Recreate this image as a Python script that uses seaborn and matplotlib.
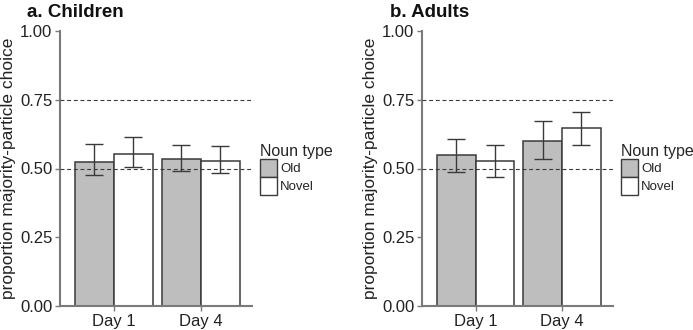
import matplotlib
matplotlib.use("Agg")
import matplotlib.pyplot as plt
import seaborn as sns
import pandas as pd
import numpy as np
from matplotlib.patches import Patch

days = ["Day 1", "Day 4"]
noun_types = ["Old", "Novel"]

children_mean = {"Old": [0.522, 0.536], "Novel": [0.553, 0.526]}
children_lo = {"Old": [0.476, 0.491], "Novel": [0.504, 0.485]}
children_hi = {"Old": [0.590, 0.587], "Novel": [0.615, 0.582]}

adults_mean = {"Old": [0.548, 0.600], "Novel": [0.526, 0.646]}
adults_lo = {"Old": [0.487, 0.533], "Novel": [0.468, 0.584]}
adults_hi = {"Old": [0.607, 0.672], "Novel": [0.587, 0.707]}

titles = ["a. Children", "b. Adults"]
yticks = [0.00, 0.25, 0.50, 0.75, 1.00]
ylabel = "proportion majority-particle choice"
legend_title = "Noun type"

sns.set_theme(style="white")
plt.rcParams["font.family"] = ["Liberation Sans", "DejaVu Sans"]

fig = plt.figure(figsize=(6.93, 3.30), dpi=100)
W, H = 693, 330
axes_px = [(60, 252), (422, 613)]
colors = {"Old": "#bebebe", "Novel": "#ffffff"}
spine_col = "#7a7a7a"
dark = "#3a3a3a"

datasets = [(children_mean, children_lo, children_hi), (adults_mean, adults_lo, adults_hi)]

for i, ((x0, x1), (mean, lo, hi)) in enumerate(zip(axes_px, datasets)):
    ax = fig.add_axes([x0 / W, (330 - 306) / H, (x1 - x0) / W, 275 / H])
    rows = []
    for nt in noun_types:
        for d, day in enumerate(days):
            rows.append({"day": day, "noun": nt, "mean": mean[nt][d],
                         "lo": lo[nt][d], "hi": hi[nt][d]})
    df = pd.DataFrame(rows)
    sns.barplot(data=df, x="day", y="mean", hue="noun", order=days,
                hue_order=noun_types, palette=colors, width=0.9,
                edgecolor=dark, linewidth=1.1, errorbar=None, legend=False, ax=ax)
    for bar, (_, r) in zip(ax.patches, df.iterrows()):
        cx = bar.get_x() + bar.get_width() / 2
        ax.errorbar([cx], [r["mean"]],
                    yerr=[[r["mean"] - r["lo"]], [r["hi"] - r["mean"]]],
                    fmt="none", ecolor=dark, elinewidth=1.0, capsize=6.5,
                    capthick=1.0, zorder=5)
    for yv in (0.5, 0.75):
        ax.axhline(yv, color=dark, lw=0.8, ls=(0, (3.5, 2.5)), zorder=4)
    ax.set_xlim(-0.62, 1.59)
    ax.set_ylim(0, 1)
    ax.set_yticks(yticks)
    ax.set_yticklabels([f"{v:.2f}" for v in yticks])
    ax.set_xlabel("")
    ax.set_ylabel(ylabel, fontsize=12.5, color="#222222", labelpad=3)
    for s in ["top", "right"]:
        ax.spines[s].set_visible(False)
    for s in ["left", "bottom"]:
        ax.spines[s].set_color(spine_col)
        ax.spines[s].set_linewidth(1.5)
    ax.tick_params(axis="both", which="both", direction="out", length=3.5,
                   width=1.0, color=spine_col, labelsize=12, labelcolor="#222222",
                   pad=2, left=True, bottom=True)
    ax.set_title(titles[i], fontsize=13.5, fontweight="bold", loc="left",
                 x=-0.17, y=1.02, color="#111111")
    handles = [Patch(facecolor=colors[nt], edgecolor=dark, linewidth=1.0, label=nt)
               for nt in noun_types]
    leg = ax.legend(handles=handles, title=legend_title, loc="upper left",
                    bbox_to_anchor=(1.04, 0.59), frameon=False, fontsize=9.5,
                    title_fontsize=11.5, handlelength=1.3, handleheight=1.75,
                    handletextpad=0.25, labelspacing=0.0, borderaxespad=0,
                    borderpad=0)
    leg._legend_box.align = "left"

fig.savefig("out.png", dpi=100)
